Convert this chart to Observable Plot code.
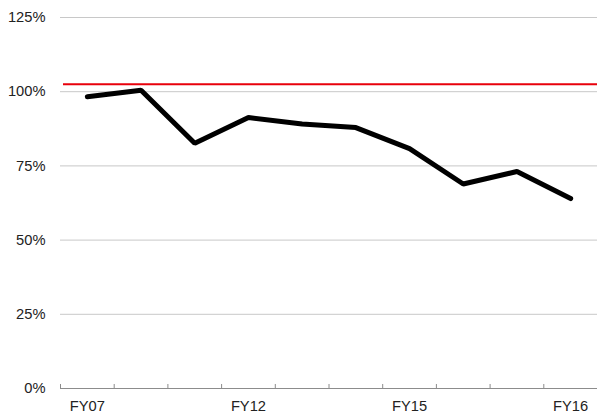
<!DOCTYPE html>
<html>
<head>
<meta charset="utf-8">
<script src="https://cdn.jsdelivr.net/npm/d3@7"></script>
<script src="https://cdn.jsdelivr.net/npm/@observablehq/plot@0.6"></script>
<style>
  html, body { margin: 0; padding: 0; background: #fff; }
</style>
</head>
<body>
<div id="chart"></div>
<script>
// Category positions (10 periods) and the labels shown under the axis
const periods = [0, 1, 2, 3, 4, 5, 6, 7, 8, 9];
const tickLabels = ["FY07", "", "", "FY12", "", "", "FY15", "", "", "FY16"];
// Series values (%)
const values = [98.3, 100.5, 82.6, 91.3, 89.1, 87.9, 80.8, 68.9, 73.1, 64.0];
// Reference (target) level (%)
const target = [102.5];
// Y-axis ticks (%)
const yTicks = [0, 25, 50, 75, 100, 125];
// Category boundaries for the inner tick marks
const boundaries = d3.range(-0.5, 10, 1);

const data = periods.map((p, i) => ({p, v: values[i]}));
const labeled = periods.filter(p => tickLabels[p] !== "");

const chart = Plot.plot({
  width: 597,
  height: 414,
  marginLeft: 60,
  marginRight: 0,
  marginTop: 17,
  marginBottom: 26,
  style: {fontFamily: "'Liberation Sans', Arial, sans-serif", fontSize: "14.7px", color: "#222", background: "#fff"},
  x: {domain: [-0.5, 9.5]},
  y: {domain: [0, 125]},
  marks: [
    Plot.gridY(yTicks.filter(d => d > 0), {stroke: "#c8c8c8", strokeOpacity: 1}),
    Plot.ruleY([0], {stroke: "#8c8c8c"}),
    Plot.ruleX(boundaries, {y1: 0, y2: 1.35, stroke: "#8c8c8c"}),
    Plot.axisY(yTicks, {tickSize: 0, tickPadding: 15, tickFormat: d => d + "%", label: null}),
    Plot.axisX(labeled, {tickSize: 0, tickPadding: 12, tickFormat: d => tickLabels[d], label: null}),
    Plot.ruleY(target, {stroke: "#e8000b", strokeWidth: 2, insetLeft: 3}),
    Plot.line(data, {x: "p", y: "v", stroke: "#000", strokeWidth: 5, strokeLinejoin: "miter", strokeLinecap: "round"})
  ]
});
document.getElementById("chart").append(chart);
</script>
</body>
</html>
